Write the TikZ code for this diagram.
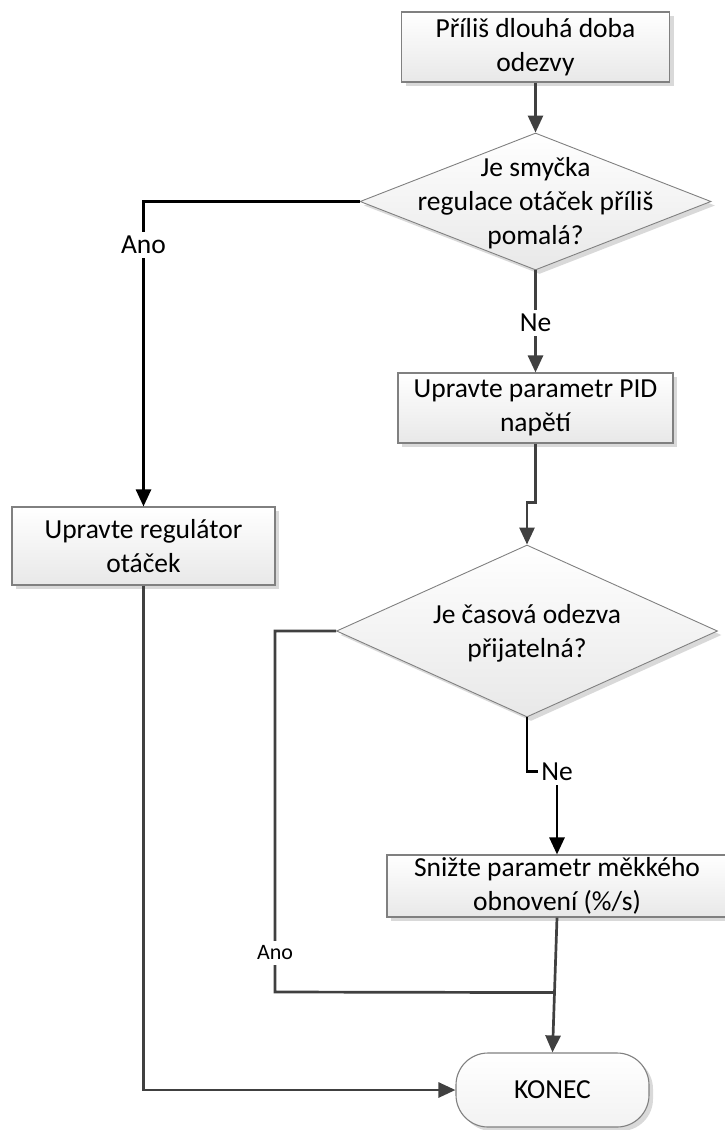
\documentclass[tikz,border=0pt]{standalone}
\usepackage{fontspec}
\setmainfont{Carlito}
\usetikzlibrary{arrows.meta,shapes.geometric,shadows,calc}
\definecolor{lineg}{HTML}{404040}
\definecolor{edgeg}{HTML}{808080}
\definecolor{shadg}{HTML}{D9D9D9}
\begin{document}
\begin{tikzpicture}[x=1pt,y=-1pt,
  txt/.style={font=\fontsize{27.5}{34}\selectfont, align=center, inner sep=0pt},
  shd/.style={drop shadow={shadow xshift=4pt,shadow yshift=-4pt,fill=shadg,opacity=1}},
  procbox/.style={txt, draw=edgeg, line width=1.1pt, top color=white, bottom color=black!9, shd},
  decis/.style={diamond, draw=edgeg, line width=0.9pt, top color=white, bottom color=black!9, shd, inner sep=0pt},
  termbox/.style={txt, draw=edgeg, line width=1.1pt, rounded corners=32pt, top color=white, bottom color=black!5, shd},
  conn/.style={draw=lineg, line width=2.7pt},
  connb/.style={draw=black, line width=2.7pt},
  arr/.style={-{Triangle[length=17pt,width=15pt]}},
  lbl/.style={font=\fontsize{27.5}{34}\selectfont, fill=white, inner xsep=3pt, inner ysep=4pt},
  slbl/.style={font=\fontsize{22}{26}\selectfont, fill=white, inner xsep=3pt, inner ysep=5pt}
]
\useasboundingbox (0,0) rectangle (725,1130);

% nodes
\node[procbox, minimum width=268pt, minimum height=70pt] (b1) at (535.5,47) {Příliš dlouhá doba\\odezvy};
\node[decis, minimum width=351pt, minimum height=137pt] (d1) at (535.5,201.5) {};
\node[txt] (d1t) at (535.5,203) {Je smyčka\\regulace otáček příliš\\pomalá?};
\node[procbox, minimum width=275pt, minimum height=70pt] (pid) at (535.5,408) {Upravte parametr PID\\napětí};
\node[procbox, minimum width=263pt, minimum height=78pt] (reg) at (143.5,546) {Upravte regulátor\\otáček};
\node[decis, minimum width=381pt, minimum height=172pt] (d2) at (527,631) {};
\node[txt] (d2t) at (527,633) {Je časová odezva\\přijatelná?};
\node[procbox, minimum width=340pt, minimum height=62pt] (snize) at (557,886) {Snižte parametr měkkého\\obnovení (\%/s)};
\node[termbox, minimum width=193pt, minimum height=74pt] (konec) at (552.5,1090) {KONEC};

% connectors
\draw[conn, arr] (b1.south) -- (d1.north);
\draw[connb, arr] (d1.west) -| (reg.north);
\node[lbl] (anoA) at (143.5,245) {Ano};
\draw[conn, arr] (d1.south) -- (pid.north);
\node[lbl] (neA) at (535.5,323) {Ne};
\draw[conn, arr] (pid.south) -- ++(0,59) -| (d2.north);
\coordinate (j) at ($(snize.south)!0.556!(konec.north)$);
\draw[conn] (d2.west) -- (275,631) -- (275,992) -- (j);
\node[slbl] (anoB) at (275,953) {Ano};
\draw[connb, arr] (d2.south) -- ++(0,54) -| (snize.north);
\node[lbl] (neB) at (557,772) {Ne};
\draw[conn, arr] (snize.south) -- (konec.north);
\draw[conn, arr] (reg.south) |- (konec.west);
\end{tikzpicture}
\end{document}
